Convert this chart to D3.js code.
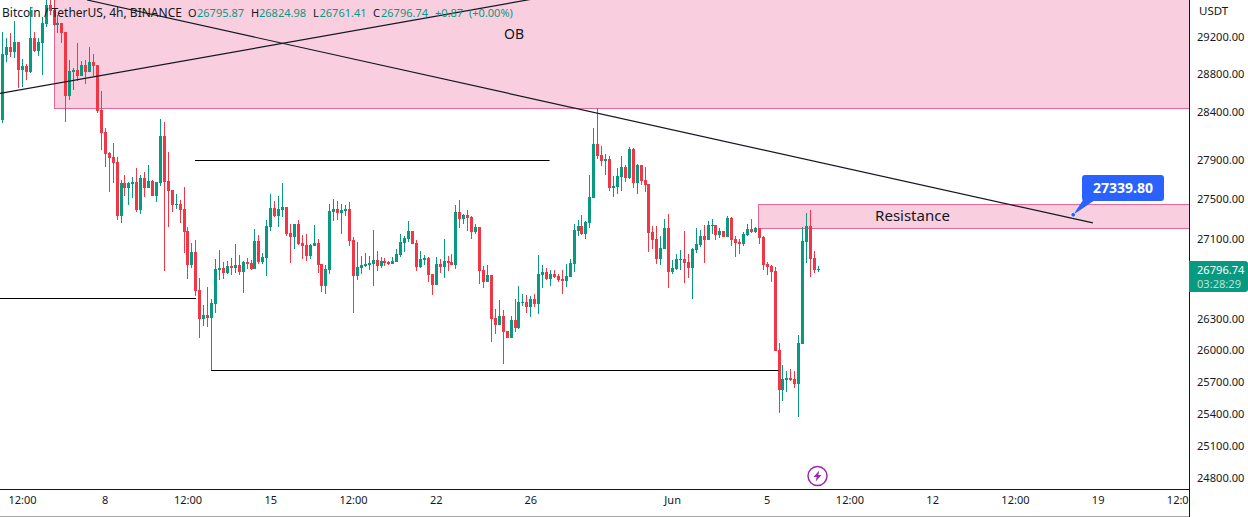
<!DOCTYPE html>
<html>
<head>
<meta charset="utf-8">
<script src="https://cdnjs.cloudflare.com/ajax/libs/d3/7.8.5/d3.min.js"></script>
<style>
  html, body { margin: 0; padding: 0; background: #fff; }
  svg { display: block; }
  text { font-family: "Noto Sans", sans-serif; fill: #131722; }
  .domain { display: none; }
</style>
</head>
<body>
<svg id="chart" width="1248" height="517"></svg>
<script>
// 4h BTCUSDT candles
const opens = [
  28316,29006,29093,29038,29146,28845,28888,28824,29190,29049,
  29135,29340,29547,29493,29330,29351,29254,28569,28824,28845,
  28781,28898,28824,28931,28898,28421,28191,27972,27931,27880,
  27328,27663,27612,27653,27674,27389,27715,27612,27684,27531,
  27663,28149,27684,27592,27440,27450,27399,27176,26837,26966,
  26590,26307,26345,26316,26453,26787,26807,26758,26827,26807,
  26837,26768,26867,26857,26797,27076,26867,26907,27217,27409,
  27328,27389,27419,27157,27116,27247,27056,27036,26926,27026,
  27056,26847,26630,26787,27368,27399,27358,27379,27399,27086,
  26728,26807,26827,26837,26847,26887,26827,26877,26867,26847,
  26867,26936,27056,27096,27177,27056,26817,26887,26907,26748,
  26640,26847,26817,26877,26867,26837,27368,27297,27338,27318,
  27166,27217,26787,26669,26738,26316,26248,26336,26190,26122,
  26297,26219,26463,26473,26423,26502,26453,26738,26768,26699,
  26748,26728,26699,26679,26719,26847,27177,27227,27147,27257,
  27510,28066,27951,27890,27910,27612,27623,27725,27828,27715,
  28014,27663,27848,27694,27653,27166,27096,26897,26996,27207,
  26768,26797,26887,26897,26867,26807,26986,27036,27127,27086,
  27227,27237,27137,27177,27116,27308,27096,27066,27046,27137,
  27197,27166,27207,27116,26847,26827,26777,26007,25626,25721,
  25740,25730,25683,26065,27066,27227,26907,26795.87
];
const highs = [
  29254,29192,29240,29373,29146,28960,28909,29522,29258,29190,
  29420,29640,29614,29603,29438,29351,29254,28952,28866,29135,
  28941,28952,29092,29017,28898,28622,28233,27986,28076,27931,
  27694,27745,27674,27725,27818,27745,27776,27848,27694,27674,
  28326,28295,27983,27592,27551,27490,27623,27217,27056,27086,
  26709,26443,26620,26502,26897,26986,26867,26877,26907,27046,
  26936,26877,26907,26887,27197,27137,26956,27287,27551,27480,
  27531,27664,27419,27247,27247,27287,27137,27147,27046,27237,
  27096,26847,26837,27450,27500,27480,27450,27440,27470,27116,
  27066,26926,26956,26926,27187,26976,26917,26907,26877,26917,
  26996,27147,27127,27277,27177,27086,26976,26936,26917,26748,
  26917,26897,27096,26926,26946,27440,27490,27348,27389,27328,
  27247,27217,26827,26837,26738,26404,26492,26394,26190,26336,
  26502,26630,26551,26541,26531,26551,26936,26837,26807,26787,
  26787,26748,26787,26847,26897,27247,27287,27338,27277,27745,
  28233,28442,28045,27962,27941,27735,27818,27941,27848,28034,
  28024,27859,27848,27828,27653,27227,27227,27127,27297,27348,
  26887,26946,26986,27177,26946,27006,27207,27187,27237,27277,
  27297,27237,27207,27177,27328,27318,27127,27096,27166,27247,
  27297,27217,27207,27127,26867,26837,26817,26074,25863,25806,
  25825,25806,26151,27217,27358,27389,26976,26824.98
];
const lows = [
  28285,28934,28988,28977,28654,28662,28739,28816,29038,28995,
  28792,29312,29438,29319,29243,29132,28295,28527,28633,28728,
  28781,28696,28824,28781,28390,28003,27828,27574,27666,27287,
  27260,27531,27440,27510,27368,27348,27520,27612,27531,27470,
  27633,26777,27217,27368,27399,27257,26956,26699,26807,26531,
  26122,26239,26229,25816,26365,26689,26699,26748,26738,26758,
  26738,26561,26797,26787,26797,26847,26847,26728,27177,27318,
  27217,27318,27127,26857,26996,27036,26897,26877,26897,27026,
  26758,26570,26551,26748,27277,27287,27147,27328,27026,26365,
  26689,26748,26817,26787,26630,26777,26807,26827,26837,26847,
  26867,26917,26966,27066,27046,26777,26807,26837,26669,26541,
  26640,26758,26709,26777,26837,26797,27207,27247,27177,27096,
  27147,26650,26610,26669,26084,26161,26248,25873,26122,26122,
  26180,26210,26433,26365,26326,26423,26355,26610,26689,26630,
  26709,26669,26551,26620,26719,26768,27127,27137,27096,27207,
  27510,27910,27838,27745,27582,27521,27551,27582,27674,27704,
  27612,27551,27643,27572,26966,26996,26847,26837,26996,26610,
  26748,26787,26787,26660,26709,26502,26956,27016,26857,27086,
  27147,27086,27106,27116,27116,27026,26917,26946,27026,27127,
  27157,27157,27046,26787,26738,26669,25997,25400,25513,25607,
  25711,25645,25363,26065,26857,26719,26758,26761.41
];
const closes = [
  29017,29093,29038,29146,28845,28888,28824,29190,29049,29146,
  29351,29547,29482,29330,29351,29243,28569,28835,28845,28781,
  28898,28824,28931,28888,28411,28180,27962,27921,27869,27328,
  27663,27612,27663,27674,27389,27715,27612,27684,27531,27674,
  28149,27674,27582,27440,27450,27389,27166,26837,26966,26580,
  26307,26345,26316,26463,26797,26807,26758,26827,26807,26837,
  26768,26867,26847,26797,27076,26867,26917,27227,27409,27328,
  27399,27419,27147,27116,27247,27046,27026,26926,27036,27056,
  26837,26630,26797,27379,27399,27358,27389,27399,27076,26728,
  26817,26837,26847,26857,26887,26827,26877,26857,26847,26877,
  26946,27066,27106,27177,27046,26817,26897,26907,26738,26640,
  26847,26817,26877,26857,26837,27368,27297,27338,27308,27166,
  27217,26777,26669,26738,26307,26248,26336,26180,26122,26297,
  26219,26473,26473,26423,26502,26453,26748,26768,26699,26748,
  26719,26689,26679,26728,26857,27187,27227,27147,27267,27521,
  28066,27941,27890,27910,27612,27633,27735,27828,27715,28014,
  27663,27848,27684,27643,27157,27086,26897,27006,27207,26768,
  26807,26897,26897,26857,26807,26996,27046,27127,27086,27237,
  27237,27137,27177,27116,27308,27086,27056,27046,27147,27197,
  27166,27207,27106,26837,26817,26768,25997,25626,25730,25740,
  25721,25683,26074,27076,27227,26897,26787,26796.74
];

// axis
const priceTicks = [29200,28800,28400,27900,27500,27100,26300,26000,25700,25400,25100,24800];
const timeTickBars = [5,26,47,68,89,110,134,170,194,215,236,257,278,299];
const timeTickLabels = ["12:00","8","12:00","15","12:00","22","26","Jun","5","12:00","12","12:00","19","12:00"];

// drawings on the chart, [bar, price]
const trendDown = [[21.5,29603],[276.8,27257]];
const trendUp = [[-0.6,28596],[135.2,29618]];
const levels = [[48.9,138.9,27895],[-0.6,49.2,26507],[53,197,25813]];
const obZone = { bar: 13.1, low: 28442, high: 29620 };
const resistZone = { bar: 191.8, low: 27201, high: 27445 };
const calloutBar = 271.8;
const calloutPrice = 27339.80;

const width = 1248, height = 517;
const plotW = 1189, plotH = 489;
const green = "#089981", red = "#f23645";
const pinkFill = "#f9cfdf", pinkLine = "#e5689a";
const fmt = d3.format(".2f");

const last = opens.length - 1;
const change = closes[last] - opens[last];

const svg = d3.select("#chart");

const x = d3.scaleLinear().domain([0, 299]).range([2.3, 1180.4]);
const y = d3.scaleLog().domain([29200, 24800]).range([37, 478]);

svg.append("defs").append("clipPath").attr("id", "plot")
  .append("rect").attr("width", plotW).attr("height", plotH);

const plot = svg.append("g").attr("clip-path", "url(#plot)");

// zones sit behind the candles
[obZone, resistZone].forEach(z => {
  const x0 = Math.round(x(z.bar)) + 0.5;
  const y0 = Math.round(y(z.high)) + 0.5;
  const y1 = Math.round(y(z.low)) + 0.5;
  plot.append("rect")
    .attr("x", x0).attr("y", y0)
    .attr("width", plotW - x0 + 5).attr("height", y1 - y0)
    .attr("fill", pinkFill)
    .attr("stroke", pinkLine);
});

// candles
const bars = d3.range(opens.length);
const isUp = i => closes[i] >= opens[i];

plot.append("g").selectAll("rect")
  .data(bars).join("rect")
  .attr("x", i => Math.round(x(i)))
  .attr("width", 1)
  .attr("y", i => Math.round(y(highs[i])))
  .attr("height", i => Math.max(1, Math.round(y(lows[i])) - Math.round(y(highs[i]))))
  .attr("fill", i => isUp(i) ? green : red);

plot.append("g").selectAll("rect")
  .data(bars).join("rect")
  .attr("x", i => Math.round(x(i)) - 1)
  .attr("width", 3)
  .attr("y", i => Math.round(y(Math.max(opens[i], closes[i]))))
  .attr("height", i => Math.max(1, Math.round(y(Math.min(opens[i], closes[i]))) - Math.round(y(Math.max(opens[i], closes[i])))))
  .attr("fill", i => isUp(i) ? green : red);

// trend lines and levels
const line = d3.line().x(d => x(d[0])).y(d => y(d[1]));
[trendDown, trendUp].forEach(t => {
  plot.append("path").attr("d", line(t))
    .attr("fill", "none").attr("stroke", "#131722").attr("stroke-width", 1.2);
});

plot.append("g").selectAll("line")
  .data(levels).join("line")
  .attr("x1", d => x(d[0])).attr("x2", d => x(d[1]))
  .attr("y1", d => Math.round(y(d[2])) + 0.5).attr("y2", d => Math.round(y(d[2])) + 0.5)
  .attr("stroke", "#000").attr("stroke-width", 1);

plot.append("text").attr("x", 514).attr("y", 39)
  .attr("text-anchor", "middle").attr("font-size", 14).text("OB");

plot.append("text")
  .attr("x", 912.5)
  .attr("y", (y(resistZone.low) + y(resistZone.high)) / 2 + 5)
  .attr("text-anchor", "middle").attr("font-size", 15).text("Resistance");

// callout
const ax = x(calloutBar), ay = y(calloutPrice);
const callout = plot.append("g");
callout.append("path")
  .attr("d", `M${ax},${ay}L1083,200L1095,200Z`)
  .attr("fill", "#2962ff");
callout.append("rect")
  .attr("x", 1082).attr("y", 175).attr("width", 82).attr("height", 26).attr("rx", 3)
  .attr("fill", "#2962ff");
callout.append("circle")
  .attr("cx", ax).attr("cy", ay).attr("r", 2.4)
  .attr("fill", "#2962ff").attr("stroke", "#fff").attr("stroke-width", 0.8);
callout.append("text")
  .attr("x", 1123).attr("y", 192.5)
  .attr("text-anchor", "middle").attr("font-size", 14).attr("font-weight", 700)
  .style("fill", "#fff").text(fmt(calloutPrice));

// earnings marker
const marker = plot.append("g").attr("transform", "translate(817.5,476)");
marker.append("circle").attr("r", 9.5)
  .attr("fill", "#fff").attr("stroke", "#9c27b0").attr("stroke-width", 1.5);
marker.append("path").attr("d", "M1.8,-5.5L-4,1L-0.8,1L-1.8,5.5L4,-1L0.8,-1Z").attr("fill", "#9c27b0");

// legend
const legend = plot.append("g").attr("font-size", 11);
legend.append("text").attr("x", 2).attr("y", 17).attr("font-size", 12).text("Bitcoin / TetherUS, 4h, BINANCE");
const legendParts = [
  [188, "O", 0], [197, fmt(opens[last]), 1],
  [251, "H", 0], [259, fmt(highs[last]), 1],
  [313, "L", 0], [319.5, fmt(lows[last]), 1],
  [373, "C", 0], [381, fmt(closes[last]), 1],
  [435, d3.format("+.2f")(change), 1], [469, "(+0.00%)", 1]
];
legend.selectAll("text.part")
  .data(legendParts).join("text").attr("class", "part")
  .attr("x", d => d[0]).attr("y", 17)
  .style("fill", d => d[2] ? green : "#131722")
  .text(d => d[1]);

// axes
const xAxis = d3.axisBottom(x)
  .tickValues(timeTickBars)
  .tickSize(0).tickPadding(7)
  .tickFormat((d, i) => timeTickLabels[i]);

svg.append("g")
  .attr("clip-path", "url(#xclip)")
  .attr("transform", `translate(0,${plotH})`)
  .call(xAxis)
  .call(g => g.selectAll("text").attr("font-size", 11).attr("font-family", "\"Noto Sans\", sans-serif"));
svg.select("defs").append("clipPath").attr("id", "xclip")
  .append("rect").attr("width", plotW).attr("height", 30);

const yAxis = d3.axisRight(y)
  .tickValues(priceTicks)
  .tickSize(0).tickPadding(8)
  .tickFormat(fmt);

svg.append("g")
  .attr("transform", `translate(${plotW},0)`)
  .call(yAxis)
  .call(g => g.selectAll("text").attr("font-size", 11.1).attr("font-family", "\"Noto Sans\", sans-serif"));

svg.append("text").attr("x", 1199).attr("y", 15).attr("font-size", 11.5).text("USDT");

// frame
svg.append("line").attr("x1", plotW + 0.5).attr("x2", plotW + 0.5).attr("y1", 0).attr("y2", height)
  .attr("stroke", "#131722");
svg.append("line").attr("x1", 0).attr("x2", plotW).attr("y1", plotH + 0.5).attr("y2", plotH + 0.5)
  .attr("stroke", "#131722");
svg.append("line").attr("x1", 0).attr("x2", plotW).attr("y1", 516.5).attr("y2", 516.5)
  .attr("stroke", "#a9a9a9");

// last price tag
const tag = svg.append("g");
tag.append("path")
  .attr("d", `M${plotW},261H1245a3,3 0 0 1 3,3V289a3,3 0 0 1 -3,3H${plotW}Z`)
  .attr("fill", green);
tag.append("text").attr("x", 1197).attr("y", 274).attr("font-size", 11.1)
  .style("fill", "#fff").text(fmt(closes[last]));
tag.append("text").attr("x", 1197).attr("y", 288).attr("font-size", 11.1)
  .style("fill", "#b9e4dc").text("03:28:29");
</script>
</body>
</html>
